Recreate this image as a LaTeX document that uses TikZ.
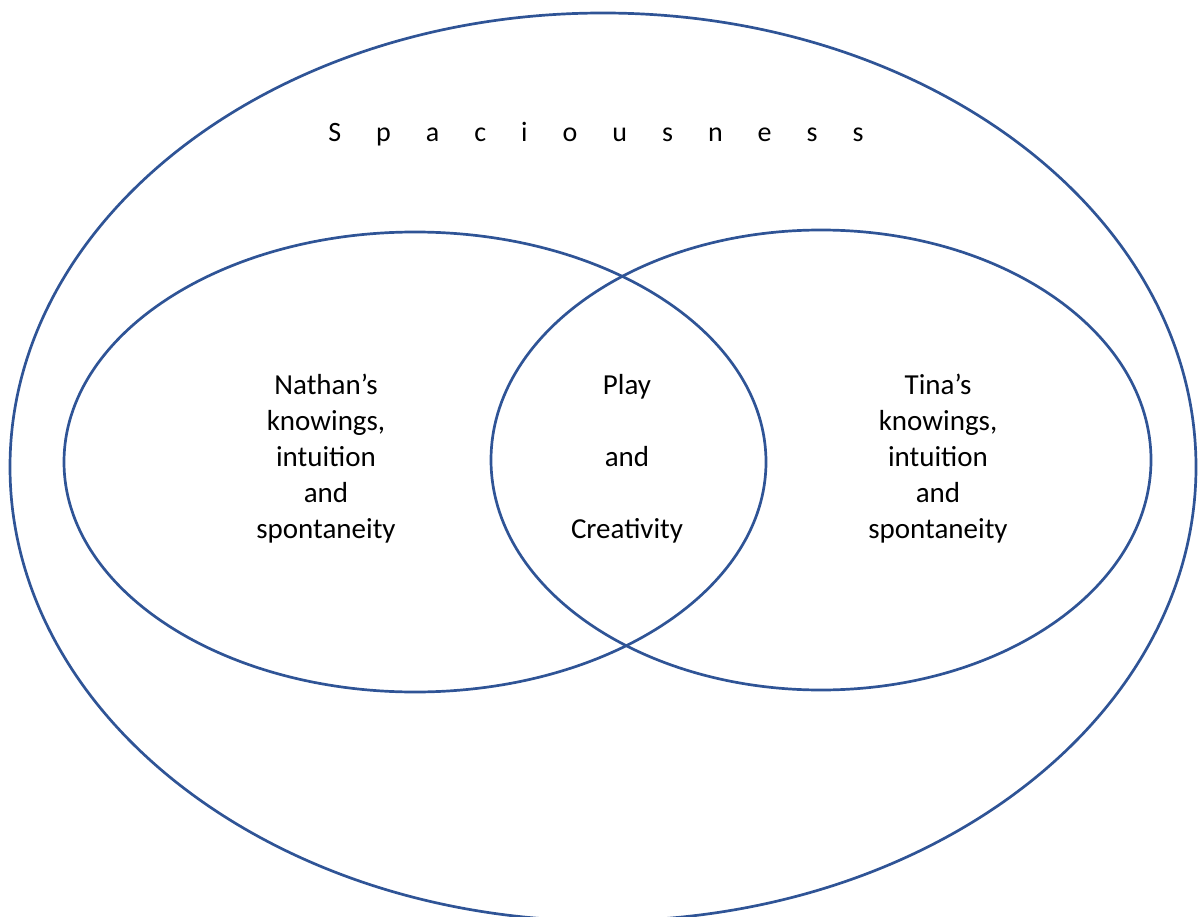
\documentclass[tikz,border=0pt]{standalone}
\usepackage{fontspec}
\setmainfont{Carlito}
\definecolor{vennblue}{RGB}{47,84,150}
\newcommand{\tgap}{\hskip 35pt }
\begin{document}
\begin{tikzpicture}[x=1pt,y=-1pt,
  ring/.style={draw=vennblue,line width=2.7pt},
  label/.style={align=center,font=\fontsize{29}{36}\selectfont,inner sep=0pt}]
\useasboundingbox (0,0) rectangle (1199,917);
\begin{scope}
\clip (0,0) rectangle (1199,917);
\draw[ring] (603,467) ellipse [x radius=593, y radius=454];
\end{scope}
\draw[ring] (415,462) ellipse [x radius=351, y radius=230];
\draw[ring] (821,460) ellipse [x radius=330, y radius=230];
\node[font=\fontsize{28}{32}\selectfont,inner sep=0pt] (title) at (596,134)
  {S\tgap p\tgap a\tgap c\tgap i\tgap o\tgap u\tgap s\tgap n\tgap e\tgap s\tgap s};
\node[label] (nathan) at (326,459) {Nathan’s\\knowings,\\intuition\\and\\spontaneity};
\node[label] (play) at (627,459) {Play\\[36pt]and\\[36pt]Creativity};
\node[label] (tina) at (938,459) {Tina’s\\knowings,\\intuition\\and\\spontaneity};
\end{tikzpicture}
\end{document}
